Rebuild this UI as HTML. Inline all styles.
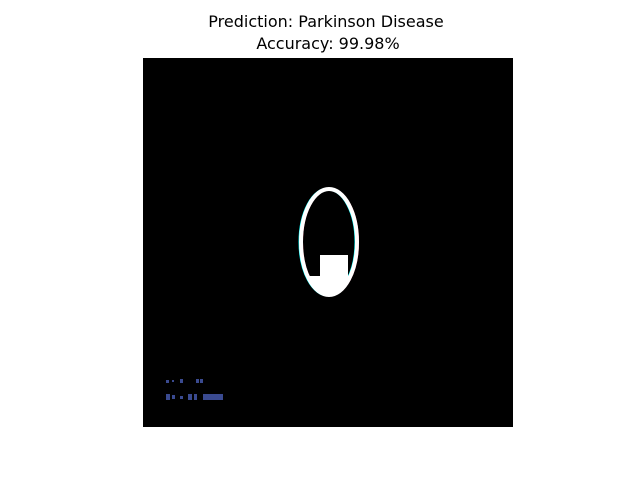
<!DOCTYPE html>
<html><head><meta charset="utf-8"><style>
body{margin:0;background:#fff;width:640px;height:480px;overflow:hidden;font-family:"Liberation Sans","DejaVu Sans",sans-serif}
</style></head><body>
<svg width="640" height="480">
<text x="326" y="27" text-anchor="middle" font-size="16" font-family="DejaVu Sans, Liberation Sans, sans-serif">Prediction: Parkinson Disease</text>
<text x="328" y="49" text-anchor="middle" font-size="16" font-family="DejaVu Sans, Liberation Sans, sans-serif">Accuracy: 99.98%</text>
<rect x="143" y="58" width="370" height="369" fill="#000"/>
<defs><clipPath id="ec"><ellipse cx="329" cy="242" rx="28" ry="53"/></clipPath></defs>
<ellipse cx="328" cy="242" rx="28" ry="53" fill="none" stroke="#00ffff" stroke-width="3"/>
<ellipse cx="330" cy="242" rx="28" ry="53" fill="none" stroke="#ff2040" stroke-width="2"/>
<ellipse cx="329" cy="242" rx="28" ry="53" fill="none" stroke="#fff" stroke-width="4"/>
<g clip-path="url(#ec)">
<rect x="320" y="255" width="28" height="50" fill="#fff"/>
<rect x="295" y="276" width="70" height="30" fill="#fff"/>
</g>
<g fill="#3a4a90">
<rect x="166" y="380" width="3" height="3"/><rect x="172" y="380" width="2" height="2"/><rect x="180" y="379" width="3" height="4"/><rect x="196" y="379" width="3" height="4"/><rect x="200" y="379" width="3" height="4"/>
<rect x="166" y="394" width="4" height="6"/><rect x="172" y="395" width="3" height="4"/><rect x="180" y="396" width="3" height="3"/><rect x="188" y="394" width="4" height="6"/><rect x="194" y="394" width="3" height="6"/><rect x="203" y="394" width="20" height="6"/>
</g>
</svg>
</body></html>
